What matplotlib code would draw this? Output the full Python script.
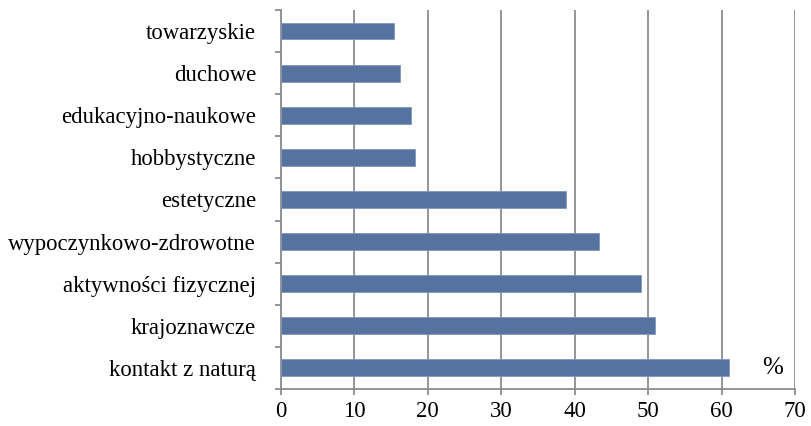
import numpy as np
import matplotlib.pyplot as plt
from matplotlib.ticker import FixedLocator

# data, bottom to top
categories = ['kontakt z naturą', 'krajoznawcze', 'aktywności fizycznej',
              'wypoczynkowo-zdrowotne', 'estetyczne', 'hobbystyczne',
              'edukacyjno-naukowe', 'duchowe', 'towarzyskie']
values = [61.0, 50.9, 49.0, 43.3, 38.8, 18.2, 17.7, 16.2, 15.4]
xticks = [0, 10, 20, 30, 40, 50, 60, 70]

plt.rcParams['font.family'] = ['Liberation Serif', 'DejaVu Serif']

fig = plt.figure(figsize=(8.11, 4.26), dpi=100)
ax = fig.add_axes([0.3465, 0.087, 0.6338, 0.8895])

pos = np.arange(len(categories))
ax.barh(pos, values, height=0.4, color='#56739f', edgecolor='#7f97bd', linewidth=0.6, zorder=3)

ax.set_xlim(0, 70)
ax.set_ylim(-0.5, len(categories) - 0.5)
ax.set_xticks(xticks)
ax.set_xticklabels([str(t) for t in xticks], fontsize=16.5)
ax.set_yticks(pos)
ax.set_yticklabels(categories, fontsize=16.4)
ax.yaxis.set_minor_locator(FixedLocator(np.arange(-0.5, len(categories), 1.0)))

ax.grid(axis='x', color='#8c8c8c', linewidth=1.3, zorder=0)
for s in ['top', 'right']:
    ax.spines[s].set_visible(False)
for s in ['left', 'bottom']:
    ax.spines[s].set_color('#8c8c8c')
    ax.spines[s].set_linewidth(1.3)

ax.tick_params(axis='y', which='major', length=0, pad=18)
ax.tick_params(axis='y', which='minor', length=4.5, width=1.3, color='#8c8c8c')
ax.tick_params(axis='x', length=4, width=1.3, color='#8c8c8c', pad=5)

ax.text(67, 0, '%', fontsize=18, ha='center', va='center')

fig.savefig('out.png', dpi=100)
